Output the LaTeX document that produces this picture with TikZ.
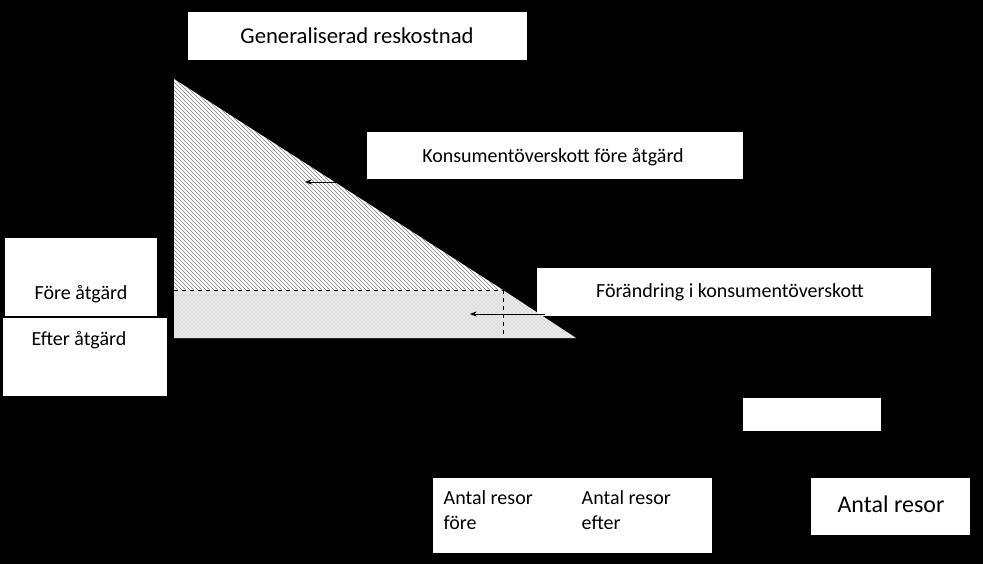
\documentclass[tikz,border=0pt]{standalone}
\usepackage{fontspec}
\setmainfont{Carlito}
\usetikzlibrary{patterns,arrows.meta}
\tikzset{
  label box/.style={fill=white,inner sep=0pt},
  txt/.style={font=\fontsize{15}{19}\selectfont,align=left},
  guide/.style={dashed,thin},
}
\begin{document}
\begin{tikzpicture}[x=0.75pt,y=-0.75pt]
\fill[black] (0,0) rectangle (983,564);
\useasboundingbox (0,0) rectangle (983,564);
% white label boxes
\fill[white] (188,12) rectangle (527,60);
\fill[white] (367,132) rectangle (743,179);
\fill[white] (537,268) rectangle (931,316);
\fill[white] (5,238) rectangle (157,316);
\fill[white] (3,318) rectangle (167,396);
\fill[white] (743,398) rectangle (881,431);
\fill[white] (433,478) rectangle (712,553);
\fill[white] (811,478) rectangle (970,535);
% surplus areas
\coordinate (apex) at (174,79);
\coordinate (orig) at (174,338);
\coordinate (foot) at (576,338);
\coordinate (pl) at (174,290);
\coordinate (pr) at (503,290);
\coordinate (pb) at (503,338);
\fill[white] (apex) -- (pl) -- (pr) -- cycle;
\fill[pattern=north west lines,pattern color=gray] (apex) -- (pl) -- (pr) -- cycle;
\fill[gray!15] (pl) -- (orig) -- (foot) -- (pr) -- cycle;
\fill[pattern=crosshatch dots,pattern color=gray!70] (pl) -- (orig) -- (foot) -- (pr) -- cycle;
\draw[guide] (pl) -- (pr);
\draw[guide] (pr) -- (pb);
% texts
\node[txt,font=\fontsize{17}{20}\selectfont] (gk) at (357,36) {Generaliserad reskostnad};
\node[txt] (kf) at (553,157) {Konsumentöverskott före åtgärd};
\node[txt] (fk) at (730,292) {Förändring i konsumentöverskott};
\node[txt] (fa) at (81,294) {Före åtgärd};
\node[txt] (ea) at (79,340) {Efter åtgärd};
\node[txt,anchor=north west] (arf) at (439,486) {Antal resor\\före};
\node[txt,anchor=north west] (are) at (577,486) {Antal resor\\efter};
\node[txt,font=\fontsize{18}{21}\selectfont] (ar) at (891,504) {Antal resor};
% arrows
\coordinate (a1) at (340,182);
\coordinate (a1e) at (305,182);
\coordinate (a2) at (545,314);
\coordinate (a2e) at (470,314);
\draw[-{Stealth[length=5pt]}] (a1) -- (a1e);
\draw[-{Stealth[length=5pt]}] (a2) -- (a2e);
\end{tikzpicture}
\end{document}
